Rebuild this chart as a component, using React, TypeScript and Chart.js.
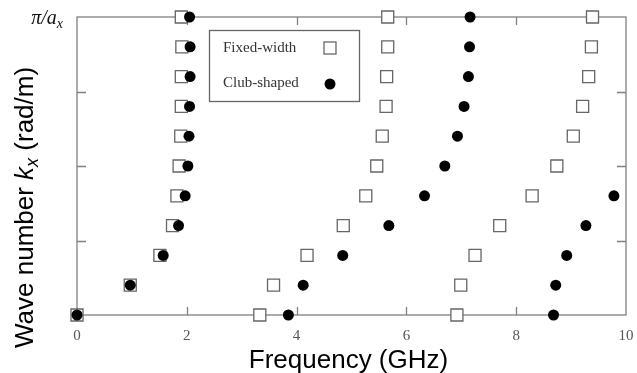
import React, { useEffect, useRef } from 'react';
import { Chart, registerables } from 'chart.js';

Chart.register(...registerables);

// wave-number index (0 .. π/a_x in 10 steps)
const kIndex = [0, 1, 2, 3, 4, 5, 6, 7, 8, 9, 10];

// Fixed-width (open squares), frequency in GHz per k step
const fixedBand1 = [0, 0.97, 1.51, 1.74, 1.82, 1.86, 1.89, 1.9, 1.9, 1.91, 1.9];
const fixedBand2 = [3.33, 3.58, 4.19, 4.85, 5.26, 5.46, 5.56, 5.63, 5.64, 5.66, 5.66];
const fixedBand3 = [6.92, 6.99, 7.25, 7.7, 8.29, 8.74, 9.04, 9.21, 9.32, 9.37, 9.39];

// Club-shaped (filled circles)
const clubBand1 = [0, 0.97, 1.57, 1.85, 1.97, 2.02, 2.04, 2.05, 2.06, 2.06, 2.05];
const clubBand2 = [3.85, 4.12, 4.84, 5.68, 6.33, 6.7, 6.93, 7.05, 7.13, 7.15, 7.16];
const clubBand3 = [8.68, 8.72, 8.92, 9.27, 9.78];

const xTickValues = [0, 2, 4, 6, 8, 10];
const xTickMarks = [2, 4, 6, 8];
const yTickMarks = [2.5, 5, 7.5];
const seriesNames = ['Fixed-width', 'Club-shaped'];
const xTitle = 'Frequency (GHz)';
const yTitleParts = ['Wave number ', 'k', 'x', ' (rad/m)'];
const yTopLabelParts = ['π/a', 'x'];

const toPoints = (bands: number[][]) =>
  bands.flatMap((b) => b.map((f, i) => ({ x: f, y: kIndex[i] })));

const decor = {
  id: 'decor',
  beforeDatasetsDraw(chart: any) {
    const { ctx, chartArea, scales } = chart;
    const { left, right, top, bottom } = chartArea;
    const x = scales.x;
    const y = scales.y;
    ctx.save();
    ctx.strokeStyle = '#808080';
    ctx.lineWidth = 1.3;
    ctx.strokeRect(left, top, right - left, bottom - top);
    ctx.beginPath();
    for (const v of xTickMarks) {
      const px = Math.round(x.getPixelForValue(v)) + 0.5;
      ctx.moveTo(px, bottom);
      ctx.lineTo(px, bottom - 8);
      ctx.moveTo(px, top);
      ctx.lineTo(px, top + 8);
    }
    for (const v of yTickMarks) {
      const py = Math.round(y.getPixelForValue(v)) + 0.5;
      ctx.moveTo(left, py);
      ctx.lineTo(left + 9, py);
      ctx.moveTo(right, py);
      ctx.lineTo(right - 9, py);
    }
    ctx.stroke();
    ctx.restore();
  },
  afterDatasetsDraw(chart: any) {
    const { ctx, chartArea, scales } = chart;
    const { left, right } = chartArea;
    const y = scales.y;
    ctx.save();

    // x title
    ctx.fillStyle = '#000';
    ctx.font = '26px "Liberation Sans", Arial, sans-serif';
    ctx.textAlign = 'center';
    ctx.textBaseline = 'alphabetic';
    ctx.fillText(xTitle, (left + right) / 2 - 3, 368);

    // y title (rotated, mixed styles)
    ctx.save();
    ctx.translate(33, 348);
    ctx.rotate(-Math.PI / 2);
    ctx.textAlign = 'left';
    let cx = 0;
    ctx.font = '26px "Liberation Sans", Arial, sans-serif';
    ctx.fillText(yTitleParts[0], cx, 0);
    cx += ctx.measureText(yTitleParts[0]).width;
    ctx.font = 'italic 26px "Liberation Sans", Arial, sans-serif';
    ctx.fillText(yTitleParts[1], cx, 0);
    cx += ctx.measureText(yTitleParts[1]).width;
    ctx.font = 'italic 18px "Liberation Sans", Arial, sans-serif';
    ctx.fillText(yTitleParts[2], cx, 5);
    cx += ctx.measureText(yTitleParts[2]).width;
    ctx.font = '26px "Liberation Sans", Arial, sans-serif';
    ctx.fillText(yTitleParts[3], cx, 0);
    ctx.restore();

    // y top label π/a_x
    const ty = y.getPixelForValue(10);
    ctx.fillStyle = '#111';
    ctx.font = 'italic 20px "Liberation Serif", serif';
    const w1 = ctx.measureText(yTopLabelParts[0]).width;
    ctx.font = 'italic 14px "Liberation Serif", serif';
    const w2 = ctx.measureText(yTopLabelParts[1]).width;
    const startX = 63 - w1 - w2;
    ctx.textAlign = 'left';
    ctx.textBaseline = 'alphabetic';
    ctx.font = 'italic 20px "Liberation Serif", serif';
    ctx.fillText(yTopLabelParts[0], startX, ty + 7);
    ctx.font = 'italic 14px "Liberation Serif", serif';
    ctx.fillText(yTopLabelParts[1], startX + w1, ty + 11);

    // legend box
    ctx.strokeStyle = '#666';
    ctx.lineWidth = 1.3;
    ctx.strokeRect(209.5, 30.5, 150, 71);
    ctx.fillStyle = '#333';
    ctx.font = '15px "Liberation Serif", serif';
    ctx.textBaseline = 'middle';
    ctx.fillText(seriesNames[0], 223, 48);
    ctx.fillText(seriesNames[1], 223, 83);
    ctx.strokeStyle = '#666';
    ctx.fillStyle = '#fff';
    ctx.fillRect(324, 42, 12, 12);
    ctx.strokeRect(324, 42, 12, 12);
    ctx.fillStyle = '#000';
    ctx.beginPath();
    ctx.arc(330, 84, 5.5, 0, Math.PI * 2);
    ctx.fill();

    ctx.restore();
  },
};

export default function App() {
  const ref = useRef<HTMLCanvasElement | null>(null);

  useEffect(() => {
    document.body.style.margin = '0';
    const canvas = ref.current;
    if (!canvas) return;
    const chart = new Chart(canvas, {
      type: 'scatter',
      data: {
        datasets: [
          {
            label: seriesNames[1],
            data: toPoints([clubBand1, clubBand2, clubBand3]),
            pointStyle: 'circle',
            pointRadius: 5.5,
            pointHoverRadius: 5.5,
            backgroundColor: '#000',
            borderColor: '#000',
            borderWidth: 0,
            clip: false,
          },
          {
            label: seriesNames[0],
            data: toPoints([fixedBand1, fixedBand2, fixedBand3]),
            pointStyle: 'rect',
            pointRadius: 8.5,
            pointHoverRadius: 8.5,
            backgroundColor: '#fff',
            borderColor: '#666',
            borderWidth: 1.3,
            clip: false,
          },
        ],
      },
      options: {
        responsive: false,
        animation: false,
        layout: { padding: { top: 17, right: 11, left: 0, bottom: 0 } },
        plugins: {
          legend: { display: false },
          tooltip: { enabled: false },
        },
        scales: {
          x: {
            type: 'linear',
            min: 0,
            max: 10,
            afterBuildTicks: (s: any) => {
              s.ticks = xTickValues.map((v) => ({ value: v }));
            },
            afterFit: (s: any) => {
              s.height = 58;
              s.paddingLeft = 0;
              s.paddingRight = 0;
            },
            grid: { display: false, drawTicks: false },
            border: { display: false },
            ticks: {
              padding: 12,
              color: '#555',
              font: { family: '"Liberation Serif", serif', size: 15 },
              maxRotation: 0,
            },
          },
          y: {
            type: 'linear',
            min: 0,
            max: 10,
            afterFit: (s: any) => {
              s.width = 77;
              s.paddingTop = 0;
              s.paddingBottom = 0;
            },
            grid: { display: false, drawTicks: false },
            border: { display: false },
            ticks: { display: false },
          },
        },
      },
      plugins: [decor],
    });
    return () => chart.destroy();
  }, []);

  return (
    <div style={{ position: 'relative', width: 637, height: 373, background: '#fff' }}>
      <canvas ref={ref} width={637} height={373} style={{ display: 'block' }} />
    </div>
  );
}
